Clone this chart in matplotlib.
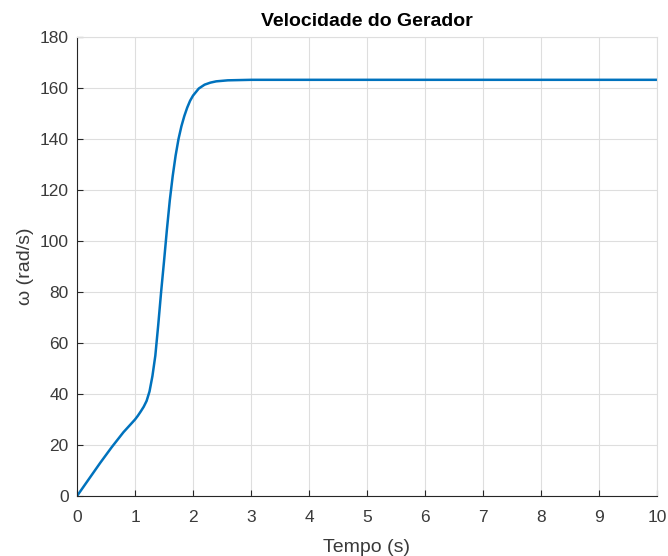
import numpy as np
import matplotlib
matplotlib.use("Agg")
import matplotlib.pyplot as plt

# generator speed vs time
tempo = [0.0, 0.2, 0.4, 0.6, 0.8, 0.9, 1.0, 1.05, 1.1, 1.15, 1.2, 1.25,
         1.3, 1.35, 1.4, 1.45, 1.5, 1.55, 1.6, 1.65, 1.7, 1.75, 1.8, 1.85,
         1.9, 1.95, 2.0, 2.1, 2.2, 2.3, 2.4, 2.6, 2.8, 3.0, 4.0, 5.0, 6.0,
         7.0, 8.0, 9.0, 10.0]
omega = [0.0, 6.5, 13.0, 19.2, 25.0, 27.5, 30.0, 31.5, 33.2, 35.0, 37.3, 41.0,
         47.0, 55.0, 67.0, 80.0, 92.0, 104.5, 116.0, 125.5, 133.5, 140.0, 145.0, 149.0,
         152.3, 155.0, 157.0, 159.8, 161.3, 162.1, 162.6, 163.0, 163.1, 163.2, 163.2, 163.2, 163.2,
         163.2, 163.2, 163.2, 163.2]

x_ticks = list(range(0, 11))
y_ticks = list(range(0, 181, 20))

plt.rcParams['font.family'] = ['Liberation Sans', 'DejaVu Sans']

fig = plt.figure(figsize=(6.68, 5.56), dpi=100)
ax = fig.add_axes([0.1153, 0.1079, 0.8682, 0.8256])

ax.plot(tempo, omega, color="#0072BD", linewidth=1.8)

ax.set_xlim(0, 10)
ax.set_ylim(0, 180)
ax.set_xticks(x_ticks)
ax.set_yticks(y_ticks)

ax.grid(True, color="#dedede", linewidth=0.8)
ax.set_axisbelow(True)

for side in ["top", "right"]:
    ax.spines[side].set_color("#dedede")
    ax.spines[side].set_linewidth(0.8)
for side in ["left", "bottom"]:
    ax.spines[side].set_color("#262626")
    ax.spines[side].set_linewidth(0.8)

ax.tick_params(direction="in", length=4, width=0.8, color="#262626",
               labelcolor="#3a3a3a", labelsize=12.5,
               top=False, right=False)
ax.tick_params(axis="x", pad=10)
ax.tick_params(axis="y", pad=6)

ax.set_title("Velocidade do Gerador", fontsize=14, fontweight="bold", pad=8)
ax.set_xlabel("Tempo (s)", fontsize=14, color="#3a3a3a", labelpad=10)
ax.set_ylabel("ω (rad/s)", fontsize=14, color="#3a3a3a", labelpad=4)

fig.savefig("out.png", dpi=100)
